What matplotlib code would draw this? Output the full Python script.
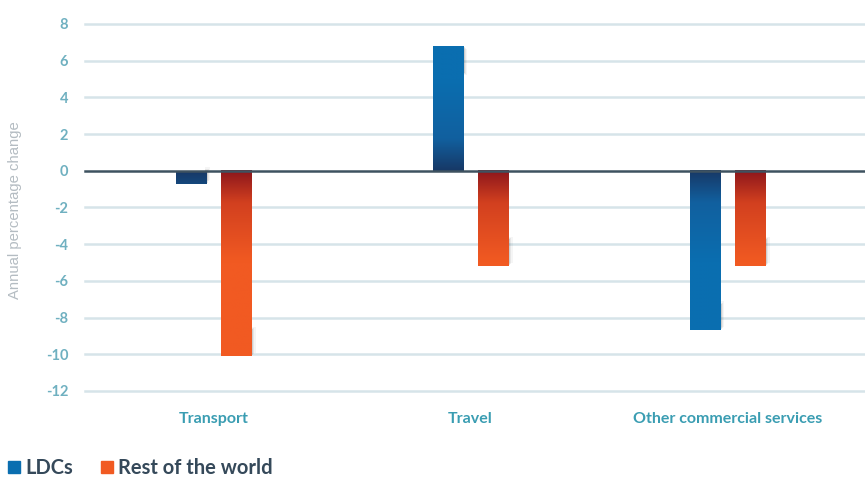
import numpy as np
import matplotlib.pyplot as plt
from matplotlib.colors import LinearSegmentedColormap
from matplotlib.patches import Rectangle, Patch

# ============================================================
# DATA
# ============================================================

categories = ["Transport", "Travel", "Other commercial services"]
ldcs = [-0.7, 6.8, -8.7]
rest_of_world = [-10.1, -5.2, -5.2]
series_names = ["LDCs", "Rest of the world"]
y_ticks = [8, 6, 4, 2, 0, -2, -4, -6, -8, -10, -12]

# ============================================================
# STYLE
# ============================================================

plt.rcParams["font.family"] = ["Lato", "DejaVu Sans"]

BLUE = "#0a6eb0"
BLUE_MID = "#11609f"
BLUE_DARK = "#173866"
ORANGE = "#f15a22"
ORANGE_MID = "#d2401f"
ORANGE_DARK = "#8c161c"
TICK_COLOR = "#6fb0c0"
CAT_COLOR = "#3a9db2"
GRID_COLOR = "#d6e4e9"
ZERO_COLOR = "#3e5260"
LEGEND_TEXT = "#35495a"

BAR_W = 0.117
OFFSET = 0.089
GRAD_LEN = 5.0  # gradient fades over this many units from the zero line


def draw_bar(ax, x, value, colors):
    cmap = LinearSegmentedColormap.from_list(
        "g", [(0.0, colors[0]), (0.35, colors[1]), (1.0, colors[2])])
    left = x - BAR_W / 2
    right = x + BAR_W / 2
    depth = np.linspace(0, abs(value), 200)
    grad = np.clip(depth / GRAD_LEN, 0, 1).reshape(-1, 1)
    # soft shadow near the bar end
    sh_h = min(abs(value), 1.4)
    for k, a in enumerate([0.14, 0.10, 0.06, 0.04]):
        y0 = value - np.sign(value) * 0.06 * k
        ax.add_patch(Rectangle((right - 0.004, y0 if value < 0 else y0 - sh_h),
                               0.008 + 0.004 * k, sh_h,
                               color="black", alpha=a, lw=0, zorder=2))
    ax.imshow(grad, extent=(left, right, 0, value), origin="lower", cmap=cmap,
              vmin=0, vmax=1, aspect="auto", zorder=3, interpolation="bilinear")


fig = plt.figure(figsize=(8.65, 4.79), dpi=100)
ax = fig.add_axes([85 / 865, 1 - 391 / 479, 780 / 865, (391 - 24) / 479])

x = np.arange(len(categories))
for i in range(len(categories)):
    draw_bar(ax, x[i] - OFFSET, ldcs[i], [BLUE_DARK, BLUE_MID, BLUE])
    draw_bar(ax, x[i] + OFFSET, rest_of_world[i], [ORANGE_DARK, ORANGE_MID, ORANGE])

ax.set_xlim(-0.5, 2.535)
ax.set_ylim(-12, 8)

for t in y_ticks:
    if t == 0:
        ax.axhline(0, color=ZERO_COLOR, lw=1.8, zorder=4, clip_on=False)
    else:
        ax.axhline(t, color=GRID_COLOR, lw=1.8, zorder=1, clip_on=False)

ax.set_yticks(y_ticks)
ax.set_yticklabels([str(t) for t in y_ticks], fontsize=10.5, fontweight="bold",
                   color=TICK_COLOR)
ax.tick_params(axis="y", length=0, pad=12)

ax.set_xticks(x)
ax.set_xticklabels(categories, fontsize=11.5, fontweight="bold", color=CAT_COLOR)
ax.tick_params(axis="x", length=0, pad=15)

for s in ax.spines.values():
    s.set_visible(False)

fig.text(15 / 865, 1 - 210 / 479, "Annual percentage change", rotation=90,
         ha="center", va="center", fontsize=10.7, color="#b4bcc2",
         family="Liberation Sans")

handles = [Patch(color=BLUE), Patch(color=ORANGE)]
fig.legend(handles, series_names, loc="center left",
           bbox_to_anchor=(8 / 865, 1 - 468 / 479), ncol=2, frameon=False,
           borderaxespad=0, borderpad=0,
           prop={"size": 14.5, "weight": "bold"}, handlelength=0.6,
           handleheight=0.6, handletextpad=0.25, columnspacing=1.4,
           labelcolor=LEGEND_TEXT)

fig.savefig("out.png", dpi=100)
